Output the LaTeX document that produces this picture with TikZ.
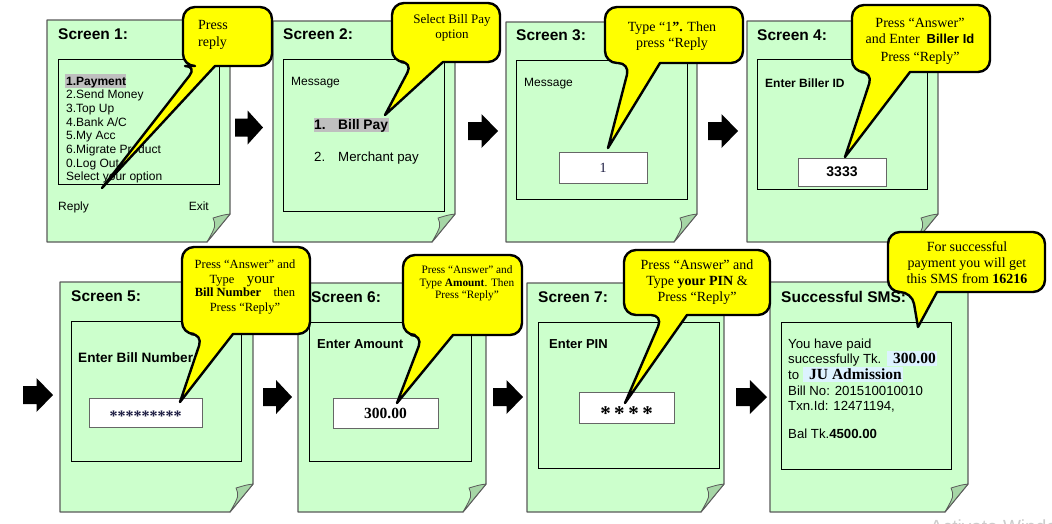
\documentclass[tikz,border=0pt]{standalone}
\usepackage{fontspec}
\setmainfont{Liberation Serif}
\setsansfont{Liberation Sans}
\definecolor{pagegreen}{HTML}{CCFFCC}
\definecolor{foldgreen}{HTML}{A6D6A6}
\definecolor{pageedge}{HTML}{5A5A5A}
\definecolor{calloutyellow}{HTML}{FFFF00}
\definecolor{hlgray}{HTML}{BFBFBF}
\definecolor{hlcyan}{HTML}{DDF3FF}
\definecolor{wmgray}{HTML}{CCCCCC}
\definecolor{stardark}{HTML}{1A1A40}
\newcommand\fsz[1]{\fontsize{#1}{#1}\selectfont}
% page with folded corner: L T R B
\newcommand\mypage[4]{%
  \draw[page] (#1,#2) -- (#3,#2) -- (#3,#4-28) -- (#3-23,#4) -- (#1,#4) -- cycle;
  \draw[fold] (#3,#4-28) .. controls (#3-7,#4-27) .. (#3-17,#4-24)
     .. controls (#3-14,#4-16) .. (#3-23,#4) -- cycle;}
% callout: L T R B baseleft baseright tipx tipy
\newcommand\mycallout[8]{%
  \draw[callout] (#7,#8) -- (#6,#4) [rounded corners=12pt] -- (#3,#4) -- (#3,#2)
     -- (#1,#2) -- (#1,#4) -- (#5,#4) [sharp corners] -- cycle;}
% block arrow: x0 x1 yc
\newcommand\blockarrow[3]{%
  \fill[black] (#1,#3-9) -- ({#1+0.45*(#2-#1)},#3-9) -- ({#1+0.45*(#2-#1)},#3-17)
     -- (#2,#3) -- ({#1+0.45*(#2-#1)},#3+17) -- ({#1+0.45*(#2-#1)},#3+9) -- (#1,#3+9) -- cycle;}
\begin{document}
\begin{tikzpicture}[x=1pt,y=-1pt,
  page/.style={fill=pagegreen, draw=pageedge, line width=1.2pt, line join=round},
  fold/.style={fill=foldgreen, draw=pageedge, line width=0.8pt, line join=round},
  screenbox/.style={draw=black, line width=0.9pt},
  inbox/.style={draw=gray!80!black, fill=white, line width=0.9pt, inner sep=0},
  callout/.style={fill=calloutyellow, draw=black, line width=2.4pt, line join=round},
  title/.style={font=\sffamily\bfseries\fsz{15.5}, anchor=base west, inner sep=0},
  txt/.style={font=\sffamily\fsz{12}, anchor=base west, inner sep=0},
  btxt/.style={font=\sffamily\bfseries\fsz{13}, anchor=base west, inner sep=0},
  ctext/.style={font=\fsz{14}, anchor=base, inner sep=0},
]
\useasboundingbox (0,0) rectangle (1052,523);
\fill[white] (0,0) rectangle (1052,523);

% ---------- pages ----------
\mypage{47}{20}{230}{242}
\mypage{273}{21}{455}{242}
\mypage{506}{22}{697}{242}
\mypage{747}{21}{938}{242}
\mypage{60}{282}{253}{512}
\mypage{298}{283}{486}{512}
\mypage{527}{283}{724}{512}
\mypage{770}{282}{968}{512}

% ---------- Screen 1 ----------
\node[title] (t1) at (58,39) {Screen 1:};
\draw[screenbox] (58,59) rectangle (219,184);
\fill[hlgray] (65,74) rectangle (126,88);
\node[txt] (m1) at (66,85) {\textbf{1.Payment}};
\node[txt] (m2) at (66,98.7) {2.Send Money};
\node[txt] (m3) at (66,112.4) {3.Top Up};
\node[txt] (m4) at (66,126.1) {4.Bank A/C};
\node[txt] (m5) at (66,139.8) {5.My Acc};
\node[txt] (m6) at (66,153.5) {6.Migrate Product};
\node[txt] (m7) at (66,167.2) {0.Log Out};
\node[txt] (m8) at (66,180.9) {Select your option};
\node[txt] (reply) at (58,210) {Reply};
\node[txt, anchor=base east] (exit) at (209,210) {Exit};

% ---------- Screen 2 ----------
\node[title] (t2) at (283,39) {Screen 2:};
\draw[screenbox] (283,59) rectangle (444,211);
\node[txt] (msg2) at (291,85) {Message};
\fill[hlgray] (314,118) rectangle (389,132);
\node[btxt, font=\sffamily\bfseries\fsz{13.8}] (o1n) at (314,129) {1.};
\node[btxt, font=\sffamily\bfseries\fsz{13.8}] (o1) at (338,129) {Bill Pay};
\node[txt, font=\sffamily\fsz{13.3}] (o2n) at (314,161) {2.};
\node[txt, font=\sffamily\fsz{13.3}] (o2) at (338,161) {Merchant pay};

% ---------- Screen 3 ----------
\node[title] (t3) at (516,40) {Screen 3:};
\draw[screenbox] (516,60) rectangle (687,199);
\node[txt] (msg3) at (524,86) {Message};
\node[inbox, minimum width=88, minimum height=31, font=\fsz{14}, text=stardark] (in3) at (603,167.5) {1};

% ---------- Screen 4 ----------
\node[title] (t4) at (757,40) {Screen 4:};
\draw[screenbox] (757,59) rectangle (927,189);
\node[btxt, font=\sffamily\bfseries\fsz{12}] (e4) at (765,87) {Enter Biller ID};
\node[inbox, minimum width=88, minimum height=28, font=\sffamily\bfseries\fsz{14}] (in4) at (842,172) {3333};

% ---------- Screen 5 ----------
\node[title] (t5) at (71,301) {Screen 5:};
\draw[screenbox] (71,321) rectangle (241,461);
\node[btxt, font=\sffamily\bfseries\fsz{13.6}] (e5) at (78,362) {Enter Bill Number};
\node[inbox, minimum width=113, minimum height=29] (in5) at (145.5,412.5) {};
\node[font=\bfseries\fsz{16}, text=stardark, inner sep=0, anchor=base] (st5) at (145.5,421) {*********};

% ---------- Screen 6 ----------
\node[title] (t6) at (311,302) {Screen 6:};
\draw[screenbox] (309,322) rectangle (471,461);
\node[btxt] (e6) at (317,348) {Enter Amount};
\node[inbox, minimum width=105, minimum height=30, font=\bfseries\fsz{15.5}] (in6) at (385.5,413) {300.00};

% ---------- Screen 7 ----------
\node[title] (t7) at (538,302) {Screen 7:};
\draw[screenbox] (538,322) rectangle (719,468);
\node[btxt] (e7) at (549,348) {Enter PIN};
\node[inbox, minimum width=95, minimum height=31] (in7) at (626.5,407.5) {};
\node[font=\bfseries\fsz{21}, inner sep=0, anchor=base] (st7) at (626.5,420) {*\,*\,*\,*};

% ---------- Successful SMS ----------
\node[title] (t8) at (781,302) {Successful SMS:};
\draw[screenbox] (781,322) rectangle (951,469);
\node[txt, font=\sffamily\fsz{13.2}] (s1) at (788,348) {You have paid};
\fill[hlcyan] (887,351) rectangle (937,366);
\node[txt, font=\sffamily\fsz{13.2}] (s2) at (788,363) {successfully Tk.};
\node[txt, font=\bfseries\fsz{15.5}] (s2b) at (893,363) {300.00};
\fill[hlcyan] (803,367) rectangle (903,382);
\node[txt, font=\sffamily\fsz{13.2}] (s3) at (788,379) {to};
\node[txt, font=\bfseries\fsz{15.5}] (s3b) at (809,379) {JU Admission};
\node[txt, font=\sffamily\fsz{13.2}] (s4) at (788,395) {Bill No: 201510010010};
\node[txt, font=\sffamily\fsz{13.2}] (s5) at (788,410) {Txn.Id: 12471194,};
\node[txt, font=\sffamily\fsz{13.2}] (s6) at (788,438) {Bal Tk.\textbf{4500.00}};

% ---------- arrows ----------
\blockarrow{235}{263}{127.5}
\blockarrow{468}{498}{131}
\blockarrow{708}{738}{131}
\blockarrow{23}{53}{395}
\blockarrow{263}{292}{397}
\blockarrow{493}{523}{397}
\blockarrow{736}{767}{397}

% ---------- callouts ----------
\mycallout{183}{7}{272}{66}{197}{215}{102}{188}
\node[ctext, anchor=base west] (c1a) at (198,29) {Press};
\node[ctext, anchor=base west] (c1b) at (198,46) {reply};

\mycallout{392}{3}{500}{62}{413}{443}{385}{115}
\node[ctext, font=\fsz{13}] (c2a) at (452,23) {Select Bill Pay};
\node[ctext, font=\fsz{13}] (c2b) at (452,38) {option};

\mycallout{605}{7}{743}{63}{630}{660}{608}{148}
\node[ctext] (c3a) at (672,31) {Type “1\textbf{”.} Then};
\node[ctext] (c3b) at (672,47) {press “Reply};

\mycallout{852}{5}{990}{72}{873}{910}{845}{157}
\node[ctext] (c4a) at (920,27) {Press “Answer”};
\node[ctext] (c4b) at (920,43) {and Enter\ \ {\sffamily\bfseries\fsz{13}Biller Id}};
\node[ctext] (c4c) at (920,61) {Press “Reply”};

\mycallout{888}{232}{1045}{292}{912}{937}{918}{327}
\node[ctext] (c8a) at (967,251) {For successful};
\node[ctext] (c8b) at (967,267) {payment you will get};
\node[ctext] (c8c) at (967,283) {this SMS from \textbf{16216}};

\mycallout{182}{247}{310}{334}{203}{233}{180}{402}
\node[ctext, font=\fsz{12.5}] (c5a) at (245,268) {Press “Answer” and};
\node[ctext, font=\fsz{12.5}] (c5b) at (242,283) {Type\quad{\fsz{15}your}};
\node[ctext, font=\fsz{12.5}] (c5c) at (245,296) {\textbf{Bill Number}\quad then};
\node[ctext, font=\fsz{12.5}] (c5d) at (245,311) {Press “Reply”};

\mycallout{403}{255}{522}{335}{423}{453}{397}{403}
\node[ctext, font=\fsz{11.3}] (c6a) at (467,273) {Press “Answer” and};
\node[ctext, font=\fsz{11.3}] (c6b) at (467,286) {Type \textbf{Amount}. Then};
\node[ctext, font=\fsz{11.3}] (c6c) at (467,298) {Press “Reply”};

\mycallout{624}{250}{770}{315}{663}{687}{625}{403}
\node[ctext] (c7a) at (697,269) {Press “Answer” and};
\node[ctext] (c7b) at (697,285) {Type \textbf{your PIN} \&};
\node[ctext] (c7c) at (697,301) {Press “Reply”};

% ---------- watermark ----------
\begin{scope}
\clip (0,0) rectangle (1052,523);
\node[txt, font=\sffamily\fsz{19}, text=wmgray] (wm) at (930,533) {Activate Windows};
\end{scope}
\end{tikzpicture}
\end{document}
